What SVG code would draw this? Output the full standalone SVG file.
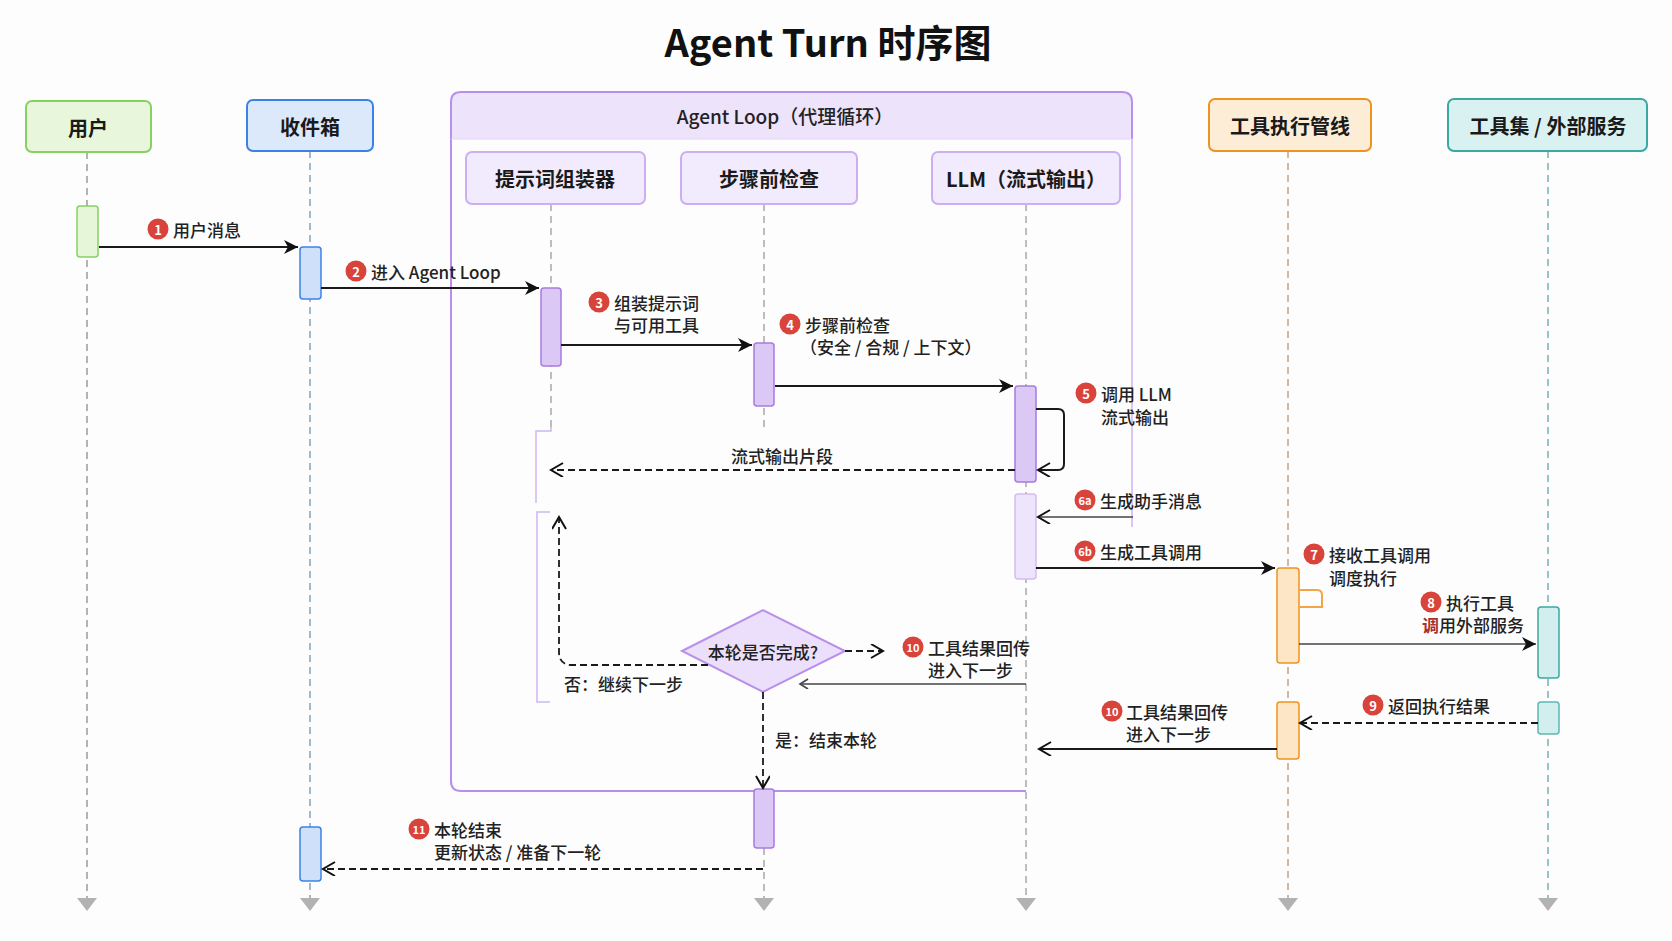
<svg xmlns="http://www.w3.org/2000/svg" width="1672" height="941" viewBox="0 0 1672 941">
<defs>
<style>
text{font-family:"Noto Sans CJK SC","Noto Sans",sans-serif;fill:#222}
.title{font-size:38px;font-weight:700;fill:#111}
.hdr{font-size:20px;font-weight:700;fill:#1a1a1a}
.loop{font-size:19px;font-weight:500}
.lbl{font-size:17px;font-weight:500}
.bt{font-size:13px;font-weight:700;fill:#fff}
.bt2{font-size:11px;font-weight:700;fill:#fff}
.bc{fill:#d8433b}
.ll{fill:none;stroke-width:1.5;stroke-dasharray:7 5}
.tri{fill:#b2b2b2}
.msg{fill:none;stroke:#1a1a1a;stroke-width:2}
.dash{fill:none;stroke:#1a1a1a;stroke-width:1.8;stroke-dasharray:7 4}
.barP{fill:#dcc8f5;stroke:#a77ae0;stroke-width:1.5}
.barPL{fill:#eee4fb;stroke:#d2bcf2;stroke-width:1.5}
.node{stroke-width:2}
</style>
<marker id="af" markerUnits="userSpaceOnUse" markerWidth="16" markerHeight="14" refX="14" refY="7" orient="auto">
<path d="M0,0 L14,7 L0,14 L4,7 Z" fill="#111"/>
</marker>
<marker id="ao" markerUnits="userSpaceOnUse" markerWidth="16" markerHeight="16" refX="13" refY="7" orient="auto">
<path d="M1,0 L13,7 L1,14" fill="none" stroke="#111" stroke-width="2"/>
</marker>
<marker id="aos" markerUnits="userSpaceOnUse" markerWidth="12" markerHeight="12" refX="9" refY="5" orient="auto">
<path d="M1,0 L9,5 L1,10" fill="none" stroke="#444" stroke-width="1.6"/>
</marker>
</defs>
<rect x="0" y="0" width="1672" height="941" fill="#fdfdfd"/>
<text class="title" x="828" y="40" text-anchor="middle" dominant-baseline="central">Agent Turn 时序图</text>

<!-- Agent Loop frame -->
<g id="agent-loop">
<path d="M451,139 V102 Q451,92 461,92 H1122 Q1132,92 1132,102 V139 Z" fill="#ede3fb"/>
<path d="M1132,139 V527" fill="none" stroke="#d9c6f6" stroke-width="2"/>
<path d="M1026,791 H461 Q451,791 451,781 V102 Q451,92 461,92 H1122 Q1132,92 1132,102 V139" fill="none" stroke="#b890ea" stroke-width="2"/>
<line x1="451" y1="139" x2="1132" y2="139" stroke="#e4d6f8" stroke-width="1"/>
<text class="loop" x="785" y="115" text-anchor="middle" dominant-baseline="central">Agent Loop（代理循环）</text>
</g>

<!-- lifelines -->
<g id="lifelines">
<line class="ll" x1="87" y1="152" x2="87" y2="898" stroke="#9a9a9a"/>
<line class="ll" x1="310" y1="151" x2="310" y2="898" stroke="#7fa3c0"/>
<line class="ll" x1="551" y1="204" x2="551" y2="427" stroke="#a8a8a8"/>
<line class="ll" x1="764" y1="204" x2="764" y2="427" stroke="#a8a8a8"/>
<line class="ll" x1="764" y1="848" x2="764" y2="898" stroke="#a8a8a8"/>
<line class="ll" x1="1026" y1="204" x2="1026" y2="898" stroke="#a8a8a8"/>
<line class="ll" x1="1288" y1="151" x2="1288" y2="898" stroke="#c7a07e"/>
<line class="ll" x1="1548" y1="151" x2="1548" y2="898" stroke="#6fb5b3"/>
<polygon class="tri" points="77,898 97,898 87,911"/>
<polygon class="tri" points="300,898 320,898 310,911"/>
<polygon class="tri" points="754,898 774,898 764,911"/>
<polygon class="tri" points="1016,898 1036,898 1026,911"/>
<polygon class="tri" points="1278,898 1298,898 1288,911"/>
<polygon class="tri" points="1538,898 1558,898 1548,911"/>
<path d="M551,427 V431 H536 V503" fill="none" stroke="#cdb6f2" stroke-width="1.5"/>
<path d="M550,512 H537 V702 H550" fill="none" stroke="#cdb6f2" stroke-width="1.5"/>
</g>

<!-- participant nodes -->
<g id="user">
<rect class="node" x="26" y="101" width="125" height="51" rx="6" fill="#e8f7dc" stroke="#86d160"/>
<text class="hdr" x="88" y="127" text-anchor="middle" dominant-baseline="central">用户</text>
</g>
<g id="inbox">
<rect class="node" x="247" y="100" width="126" height="51" rx="6" fill="#dce9fb" stroke="#3c82e6"/>
<text class="hdr" x="310" y="126" text-anchor="middle" dominant-baseline="central">收件箱</text>
</g>
<g id="prompt-assembler">
<rect class="node" x="466" y="152" width="179" height="52" rx="6" fill="#f2eafd" stroke="#cdaef2"/>
<text class="hdr" x="555" y="178" text-anchor="middle" dominant-baseline="central">提示词组装器</text>
</g>
<g id="pre-step-check">
<rect class="node" x="681" y="152" width="176" height="52" rx="6" fill="#f2eafd" stroke="#cdaef2"/>
<text class="hdr" x="769" y="178" text-anchor="middle" dominant-baseline="central">步骤前检查</text>
</g>
<g id="llm">
<rect class="node" x="932" y="152" width="188" height="52" rx="6" fill="#f2eafd" stroke="#cdaef2"/>
<text class="hdr" x="1026" y="178" text-anchor="middle" dominant-baseline="central">LLM（流式输出）</text>
</g>
<g id="tool-pipeline">
<rect class="node" x="1209" y="99" width="162" height="52" rx="6" fill="#fdecd6" stroke="#f0921e"/>
<text class="hdr" x="1290" y="125" text-anchor="middle" dominant-baseline="central">工具执行管线</text>
</g>
<g id="tools">
<rect class="node" x="1448" y="99" width="199" height="52" rx="6" fill="#daf1f1" stroke="#3aa8a3"/>
<text class="hdr" x="1548" y="125" text-anchor="middle" dominant-baseline="central">工具集 / 外部服务</text>
</g>

<!-- activation bars -->
<g id="activations">
<rect x="77" y="206" width="21" height="51" rx="3" fill="#e6f6d9" stroke="#86d160" stroke-width="1.5"/>
<rect x="300" y="247" width="21" height="52" rx="3" fill="#cfe0fa" stroke="#3c82e6" stroke-width="1.5"/>
<rect x="300" y="827" width="21" height="54" rx="3" fill="#cfe0fa" stroke="#3c82e6" stroke-width="1.5"/>
<rect class="barP" x="541" y="288" width="20" height="78" rx="3"/>
<rect class="barP" x="754" y="343" width="20" height="63" rx="3"/>
<rect class="barP" x="754" y="789" width="20" height="59" rx="3"/>
<rect class="barP" x="1015" y="386" width="21" height="96" rx="3"/>
<rect class="barPL" x="1015" y="494" width="21" height="85" rx="3"/>
<rect x="1277" y="568" width="22" height="95" rx="3" fill="#fde6c6" stroke="#f0921e" stroke-width="1.5"/>
<rect x="1277" y="702" width="22" height="57" rx="3" fill="#fde6c6" stroke="#f0921e" stroke-width="1.5"/>
<rect x="1538" y="607" width="21" height="71" rx="3" fill="#d3eeee" stroke="#3aa8a3" stroke-width="1.5"/>
<rect x="1538" y="702" width="21" height="32" rx="3" fill="#d3eeee" stroke="#5cb8b4" stroke-width="1.5"/>
</g>

<!-- decision -->
<g id="decision">
<polygon points="682,651 763,610 845,651 763,692" fill="#ecdffb" stroke="#b890ea" stroke-width="2"/>
<text class="lbl" x="763" y="651" text-anchor="middle" dominant-baseline="central">本轮是否完成?</text>
</g>

<!-- connectors -->
<g id="connectors">
<path class="msg" d="M99,247 H298" marker-end="url(#af)"/>
<path class="msg" d="M321,288 H539" marker-end="url(#af)"/>
<path class="msg" d="M561,345 H752" marker-end="url(#af)"/>
<path class="msg" d="M775,386 H1013" marker-end="url(#af)"/>
<path class="msg" d="M1036,409 H1058 Q1064,409 1064,415 V464 Q1064,470 1058,470 H1038" marker-end="url(#ao)"/>
<path class="dash" d="M1015,470 H551" marker-end="url(#ao)"/>
<path d="M1133,517 H1038" fill="none" stroke="#444" stroke-width="1.5" marker-end="url(#ao)"/>
<path class="msg" d="M1036,568 H1275" marker-end="url(#af)"/>
<path d="M1299,590 H1317 Q1322,590 1322,595 V607 H1299" fill="none" stroke="#f3a545" stroke-width="2"/>
<path d="M1299,644 H1536" fill="none" stroke="#444" stroke-width="1.6" marker-end="url(#af)"/>
<path class="dash" d="M1538,723 H1300" marker-end="url(#ao)"/>
<path class="msg" d="M1277,749 H1039" marker-end="url(#ao)"/>
<path class="dash" d="M845,651 H883" marker-end="url(#ao)"/>
<path d="M1026,684 H800" fill="none" stroke="#444" stroke-width="1.4" marker-end="url(#aos)"/>
<path class="dash" d="M708,665 H572 Q559,665 559,652 V517" marker-end="url(#ao)"/>
<path class="dash" d="M763,692 V788" marker-end="url(#ao)"/>
<path class="dash" d="M763,869 H323" marker-end="url(#ao)"/>
</g>

<!-- labels -->
<g id="labels">
<circle class="bc" cx="158" cy="229" r="10.5"/><text class="bt" x="158" y="229" text-anchor="middle" dominant-baseline="central">1</text>
<text class="lbl" x="173" y="229" dominant-baseline="central">用户消息</text>

<circle class="bc" cx="356" cy="271" r="10.5"/><text class="bt" x="356" y="271" text-anchor="middle" dominant-baseline="central">2</text>
<text class="lbl" x="371" y="271" dominant-baseline="central">进入 Agent Loop</text>

<circle class="bc" cx="599" cy="302" r="10.5"/><text class="bt" x="599" y="302" text-anchor="middle" dominant-baseline="central">3</text>
<text class="lbl" x="614" y="302" dominant-baseline="central">组装提示词</text>
<text class="lbl" x="614" y="324" dominant-baseline="central">与可用工具</text>

<circle class="bc" cx="790" cy="324" r="10.5"/><text class="bt" x="790" y="324" text-anchor="middle" dominant-baseline="central">4</text>
<text class="lbl" x="805" y="324" dominant-baseline="central">步骤前检查</text>
<text class="lbl" x="800" y="346" dominant-baseline="central">（安全 / 合规 / 上下文）</text>

<circle class="bc" cx="1086" cy="393" r="10.5"/><text class="bt" x="1086" y="393" text-anchor="middle" dominant-baseline="central">5</text>
<text class="lbl" x="1101" y="393" dominant-baseline="central">调用 LLM</text>
<text class="lbl" x="1101" y="416" dominant-baseline="central">流式输出</text>

<text class="lbl" x="782" y="455" text-anchor="middle" dominant-baseline="central">流式输出片段</text>

<circle class="bc" cx="1085" cy="500" r="10.5"/><text class="bt2" x="1085" y="500" text-anchor="middle" dominant-baseline="central">6a</text>
<text class="lbl" x="1100" y="500" dominant-baseline="central">生成助手消息</text>

<circle class="bc" cx="1085" cy="551" r="10.5"/><text class="bt2" x="1085" y="551" text-anchor="middle" dominant-baseline="central">6b</text>
<text class="lbl" x="1100" y="551" dominant-baseline="central">生成工具调用</text>

<circle class="bc" cx="1314" cy="554" r="10.5"/><text class="bt" x="1314" y="554" text-anchor="middle" dominant-baseline="central">7</text>
<text class="lbl" x="1329" y="554" dominant-baseline="central">接收工具调用</text>
<text class="lbl" x="1329" y="577" dominant-baseline="central">调度执行</text>

<circle class="bc" cx="1431" cy="602" r="10.5"/><text class="bt" x="1431" y="602" text-anchor="middle" dominant-baseline="central">8</text>
<text class="lbl" x="1446" y="602" dominant-baseline="central">执行工具</text>
<text class="lbl" x="1422" y="624" dominant-baseline="central"><tspan fill="#a83030" font-weight="700">调</tspan>用外部服务</text>

<circle class="bc" cx="1373" cy="705" r="10.5"/><text class="bt" x="1373" y="705" text-anchor="middle" dominant-baseline="central">9</text>
<text class="lbl" x="1388" y="705" dominant-baseline="central">返回执行结果</text>

<circle class="bc" cx="1112" cy="711" r="10.5"/><text class="bt2" x="1112" y="711" text-anchor="middle" dominant-baseline="central">10</text>
<text class="lbl" x="1126" y="711" dominant-baseline="central">工具结果回传</text>
<text class="lbl" x="1126" y="733" dominant-baseline="central">进入下一步</text>

<circle class="bc" cx="913" cy="647" r="10.5"/><text class="bt2" x="913" y="647" text-anchor="middle" dominant-baseline="central">10</text>
<text class="lbl" x="928" y="647" dominant-baseline="central">工具结果回传</text>
<text class="lbl" x="928" y="669" dominant-baseline="central">进入下一步</text>

<text class="lbl" x="564" y="683" dominant-baseline="central">否：继续下一步</text>
<text class="lbl" x="775" y="739" dominant-baseline="central">是：结束本轮</text>

<circle class="bc" cx="419" cy="829" r="10.5"/><text class="bt2" x="419" y="829" text-anchor="middle" dominant-baseline="central">11</text>
<text class="lbl" x="434" y="829" dominant-baseline="central">本轮结束</text>
<text class="lbl" x="434" y="851" dominant-baseline="central">更新状态 / 准备下一轮</text>
</g>
</svg>
